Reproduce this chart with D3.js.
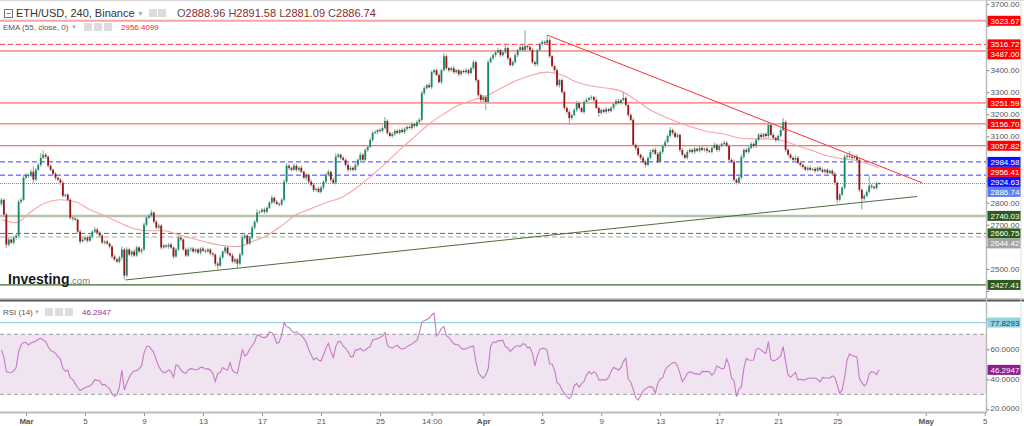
<!DOCTYPE html>
<html><head><meta charset="utf-8">
<script src="https://cdn.jsdelivr.net/npm/d3@7"></script>
<style>
body{margin:0;background:#fff;}
svg{display:block;font-family:"Liberation Sans",Arial,sans-serif;}
</style></head>
<body><svg id="c" width="1024" height="426"></svg>
<script>
// ---------------- DATA (ETH/USD 4h, Binance) ----------------
const firstOpen = 2795;
const closes = [
2813,2746,2610,2633,2619,2642,2651,2804,2813,2913,2926,2922,2940,2904,2949,2971,3003,3017,3008,2967,
2949,2931,2913,2904,2890,2831,2836,2813,2732,2728,2723,2669,2624,2633,2642,2628,2646,2669,2678,2664,
2651,2619,2624,2615,2601,2556,2543,2533,2552,2588,2470,2588,2565,2579,2561,2597,2579,2588,2700,2732,
2741,2755,2714,2687,2696,2597,2606,2601,2610,2597,2556,2588,2642,2633,2588,2561,2588,2592,2579,2588,
2574,2592,2583,2579,2588,2570,2565,2524,2515,2552,2579,2597,2570,2561,2533,2543,2524,2565,2642,2651,
2615,2642,2687,2714,2755,2759,2768,2759,2777,2800,2822,2804,2795,2791,2813,2895,2967,2958,2949,2967,
2949,2958,2940,2913,2926,2895,2881,2858,2863,2849,2868,2895,2926,2940,2904,2890,3008,3017,3003,2994,
2971,2949,2958,2949,2971,2994,3017,2994,3039,3053,3084,3116,3120,3129,3125,3138,3170,3116,3102,3111,
3125,3116,3129,3120,3134,3143,3138,3156,3147,3165,3175,3296,3319,3332,3323,3391,3400,3378,3346,3400,
3463,3409,3400,3409,3391,3400,3382,3396,3391,3400,3387,3409,3436,3355,3287,3265,3278,3256,3436,3454,
3468,3481,3491,3468,3481,3500,3454,3423,3436,3468,3491,3504,3491,3509,3504,3491,3436,3427,3491,3518,
3527,3522,3536,3463,3418,3400,3332,3355,3301,3229,3211,3183,3197,3220,3251,3229,3211,3256,3265,3274,
3278,3265,3229,3206,3220,3211,3224,3215,3229,3247,3260,3251,3265,3274,3242,3197,3175,3062,3048,3017,
3003,2985,2971,3003,3030,3039,3021,2985,3030,3057,3075,3102,3129,3116,3098,3107,3039,3017,3003,3030,
3039,3030,3044,3035,3048,3039,3044,3035,3030,3048,3062,3039,3057,3066,3071,3057,2994,2985,2904,2890,
2913,3008,3039,3030,3048,3066,3057,3084,3107,3098,3111,3102,3152,3107,3093,3084,3102,3129,3165,3039,
3017,3003,2994,3003,2980,2971,2962,2949,2958,2949,2953,2944,2958,2949,2940,2949,2935,2944,2931,2890,
2813,2836,2868,3008,3012,3008,3003,3008,2994,2858,2818,2831,2849,2877,2872,2866,2888.96,2886.74];
// upper / lower shadow length of each candle (price units)
const wickUp = [
8,6,10,8,6,8,6,10,8,15,8,6,10,25,8,10,22,20,8,6,
8,6,8,6,8,10,6,8,8,6,8,6,8,10,6,8,10,6,12,8,
6,8,6,8,6,8,10,6,8,15,8,10,8,6,10,8,6,8,10,8,
8,13,6,8,10,6,8,6,8,10,6,8,12,8,6,8,10,6,8,6,
8,6,10,6,8,6,8,6,8,10,6,8,6,8,10,8,6,8,15,8,
6,8,10,8,15,6,8,10,6,8,12,6,8,6,8,10,13,8,6,10,
8,6,10,6,8,6,10,8,6,8,10,6,8,10,6,8,15,8,6,8,
6,8,10,6,8,6,10,8,6,8,10,6,8,6,8,10,18,8,6,8,
6,8,6,10,8,6,8,10,6,8,10,10,8,6,10,8,6,8,10,8,
14,8,6,8,10,6,8,6,8,10,6,8,10,8,6,8,10,6,10,8,
6,8,10,6,8,22,8,6,8,10,6,8,10,72,8,6,10,8,6,8,
10,8,22,8,6,8,10,6,8,6,8,10,6,8,10,8,6,8,10,6,
8,6,10,8,6,8,10,6,8,6,8,10,6,27,8,6,8,10,6,8,
6,8,10,6,8,6,10,8,6,8,10,8,14,6,8,10,6,8,6,10,
8,6,8,6,8,10,6,8,6,8,10,6,8,6,10,8,6,8,10,6,
8,10,6,8,6,10,8,6,8,10,6,8,12,6,8,6,8,10,18,8,
6,8,6,10,8,6,8,6,8,10,6,8,6,8,10,6,8,6,8,8,
6,8,6,10,8,22,8,6,10,8,6,8,10,45,8,6,8,2.62];
const wickDn = [
10,8,15,8,6,8,10,6,8,6,8,10,6,15,8,6,8,6,10,8,
6,8,10,6,10,8,6,8,8,10,6,8,12,6,8,10,6,8,6,8,
10,6,8,6,8,10,8,6,8,10,18,8,6,10,8,6,8,10,6,8,
6,8,10,6,8,10,6,8,10,6,8,6,8,10,6,8,6,10,8,6,
8,10,6,8,6,8,10,12,18,8,6,10,8,6,8,10,18,8,6,10,
8,6,8,10,6,8,6,10,8,6,8,10,6,8,6,8,6,10,8,6,
10,8,6,8,10,6,8,10,8,6,8,10,6,8,10,6,8,6,10,8,
8,10,6,8,6,10,8,6,8,10,6,8,6,10,8,6,8,10,6,8,
10,6,8,6,10,8,6,8,10,6,8,6,10,8,6,8,10,6,8,10,
6,8,10,6,8,6,10,8,6,8,10,6,8,10,8,12,10,36,8,6,
8,10,6,8,6,8,10,6,8,6,10,8,6,8,10,6,8,10,8,6,
8,6,10,8,6,10,8,12,8,10,12,31,8,6,10,8,6,10,8,6,
8,10,6,18,8,6,10,8,6,8,10,6,8,6,8,10,8,6,12,8,
10,8,13,6,8,10,6,8,6,10,8,6,8,10,6,8,10,8,6,8,
6,8,10,6,8,6,8,10,6,8,6,10,8,6,8,6,10,8,10,8,
6,8,10,6,8,6,8,10,6,8,6,10,8,6,8,10,6,8,6,10,
8,6,10,8,6,8,10,6,8,6,8,10,6,8,6,8,10,6,8,10,
13,8,6,8,10,6,8,6,8,10,50,8,6,8,10,6,8,5.65];
// EMA(55) read every 6th candle, plus the last candle
const emaValues = [2723,2709,2759,2800,2813,2804,2768,2741,2709,2682,2673,2673,2655,2637,2619,2606,2601,2624,2651,2696,
2746,2773,2800,2822,2863,2917,2976,3039,3098,3156,3202,3242,3265,3287,3323,3355,3378,3391,3378,3346,
3328,3319,3305,3265,3220,3188,3161,3138,3120,3111,3093,3089,3089,3080,3057,3035,3012,2999,2990,2971,2956.4099];
const rsiValues = [
59.6,55,45.1,44.7,44.5,45.6,48,58.2,62.9,64.7,64.5,62.9,64.2,64.9,65.3,66.7,67.3,66.2,65.1,61.8,
59.1,58.5,57.3,55.1,53.3,47.3,45.3,46.2,40.9,39.8,37.3,34.5,32.5,33.3,34.5,35.1,35.6,37.1,39.8,39.3,
39.1,36.2,36.7,35.1,33.6,30.2,28.5,29.6,35.1,46.2,32.9,37.3,41.3,44.0,45.6,45.8,46.9,48.9,57.3,61.8,
62.2,60.0,57.8,52.9,48.5,45.8,44.5,44.9,46.2,45.1,41.3,49.6,48.9,46.2,44.5,44.0,46.2,47.1,46.9,46.2,
46.7,48.0,47.8,46.7,47.1,46.2,44.0,38.5,44.0,44.5,47.8,46.7,46.2,51.1,45.8,44.5,44.0,51.8,59.6,55.6,
56.7,60.2,62.2,65.1,69.6,69.1,68.0,67.8,68.5,71.6,71.1,68.5,64.0,64.7,69.6,77.8,75.1,74.5,72.5,71.1,
71.8,70.5,69.1,67.3,64.7,60.0,56.2,52.9,54.4,52.9,52.2,56.2,60.7,64.0,58.5,54.4,61.8,65.1,65.1,62.2,
60.7,58.5,55.1,55.1,59.6,59.6,60.7,58.9,59.6,60.9,61.8,66.2,66.7,67.1,67.8,68.9,71.1,62.7,61.3,60.7,
61.8,62.7,60.9,60.2,60.5,61.8,62.7,63.6,64.9,65.8,70.7,78.0,79.1,79.8,80.7,82.9,84.0,68.9,70.7,74.0,
75.1,69.1,68.0,65.8,63.6,63.1,62.9,60.7,60.0,60.5,61.1,61.8,62.2,51.8,44.5,42.2,40.7,42.9,47.0,62.0,
64.9,64.5,65.6,65.8,66.0,61.8,60.9,58.5,60.2,61.8,62.5,61.8,63.6,63.4,61.1,61.3,57.3,48.9,55.6,60.0,
60.7,60.5,59.1,50.2,50.2,46.2,37.8,36.7,32.9,30.7,28.5,27.1,29.4,35.8,37.3,34.7,36.9,38.7,42.9,45.1,
43.6,45.1,44.0,39.6,39.6,39.6,39.6,41.3,45.1,48.0,47.1,46.2,47.8,51.8,54.0,40.0,38.2,33.3,28.0,26.2,
28.9,32.2,33.6,34.9,35.1,34.5,30.7,37.3,40.2,41.1,46.2,48.5,49.6,51.1,51.3,48.9,44.0,38.5,40.7,44.0,
44.9,44.5,43.6,43.6,43.1,45.3,45.1,45.3,45.1,42.7,44.5,48.9,48.0,46.9,47.3,53.6,49.6,40.7,39.1,28.5,
33.3,35.1,47.3,54.0,52.9,52.7,52.9,60.0,60.7,59.6,58.2,57.3,65.1,53.3,52.2,52.9,54.0,55.6,61.8,51.8,
42.9,41.3,42.9,44.7,39.6,40.0,39.6,39.6,40.7,40.7,40.9,40.9,40.0,38.2,41.3,40.9,40.9,40.9,42.2,41.3,
36.2,30.7,32.9,41.3,52.9,56.9,55.8,55.3,55.1,40.7,37.8,35.6,37.3,43.6,45.1,44.7,43.1,46.2947];
const resistanceLevels = [3623.67, 3516.72, 3487.00, 3251.59, 3156.70, 3057.82];
const blueLevels = [2984.58, 2924.63];
const greenLevels = [2740.03, 2660.75, 2644.42, 2427.41];
const rsiMarkLevel = 77.8293;
const downTrendDates = ["2022-04-05T08:00Z", "2022-04-30T18:00Z"];
const downTrendPrices = [3559, 2890];
const upTrendDates = ["2022-03-07T18:00Z", "2022-04-30T10:00Z"];
const upTrendPrices = [2450, 2828];
const priceTicks = [2400,2500,2600,2700,2800,2900,3000,3100,3200,3300,3400,3500,3600,3700];
const rsiTicks = [20,40,60,80];
const timeTickDates = ["2022-03-01","2022-03-05","2022-03-09","2022-03-13","2022-03-17","2022-03-21","2022-03-25","2022-03-28T12:00Z","2022-04-01","2022-04-05","2022-04-09","2022-04-13","2022-04-17","2022-04-21","2022-04-25","2022-05-01","2022-05-05"];
const timeTickLabels = ["Mar","5","9","13","17","21","25","14:00","Apr","5","9","13","17","21","25","May","5"];
const ohlcLast = {O:"2888.96", H:"2891.58", L:"2881.09", C:"2886.74"};

// ---------------- CHART ----------------
const svg = d3.select("#c");
const t0 = Date.UTC(2022,1,27,8), H4 = 4*3600*1000;
const dates = closes.map((_, i) => new Date(t0 + i*H4));
const opens = closes.map((c, i) => i === 0 ? firstOpen : closes[i-1]);
const highs = closes.map((c, i) => Math.max(c, opens[i]) + wickUp[i]);
const lows = closes.map((c, i) => Math.min(c, opens[i]) - wickDn[i]);

const AX = 986.5;
const x = d3.scaleUtc().domain([new Date(Date.UTC(2022,2,1)), new Date(Date.UTC(2022,4,1))]).range([26, 925.75]);
const y = d3.scaleLinear().domain([2400, 3700]).range([291, 3.9]);
const yr = d3.scaleLinear().domain([30, 70]).range([394.3, 334.3]);

const defs = svg.append("defs");
defs.append("clipPath").attr("id","pc").append("rect").attr("x",0).attr("y",1).attr("width",AX).attr("height",296);
defs.append("clipPath").attr("id","rc").append("rect").attr("x",0).attr("y",302).attr("width",AX).attr("height",110);

// frame lines
svg.append("line").attr("x1",0).attr("x2",1024).attr("y1",0.5).attr("y2",0.5).attr("stroke","#d8d8d8");
svg.append("line").attr("x1",0).attr("x2",1024).attr("y1",298.5).attr("y2",298.5).attr("stroke","#c8c8c8");
svg.append("rect").attr("x",0).attr("y",299.5).attr("width",1024).attr("height",2).attr("fill","#555");

const pg = svg.append("g").attr("clip-path","url(#pc)");
// horizontal levels
const hl = (v, col, w, dash) => pg.append("line").attr("x1",0).attr("x2",AX).attr("y1",y(v)).attr("y2",y(v))
  .attr("stroke",col).attr("stroke-width",w).attr("stroke-dasharray",dash||null);
resistanceLevels.forEach((v,i) => {
  if (i===0 || i===2) hl(v, "#f7a3a3", 2);
  else if (i===1) hl(v, "#ff3b3b", 1, "5,3");
  else hl(v, "#ff4848", 1);
});
blueLevels.forEach(v => hl(v, "#3a3aff", 1, "5,3"));
hl(closes[closes.length-1], "#6b7bff", 1, "1,1");
hl(greenLevels[0], "#b7c2ac", 2.5);
hl(greenLevels[1], "#4c7a3c", 1, "5,3");
hl(greenLevels[2], "#a8a8a8", 1, "5,3");
hl(greenLevels[3], "#3f6b2e", 1.2);

// EMA
const emaIdx = emaValues.map((v,k) => k < emaValues.length-1 ? k*6 : closes.length-1);
pg.append("path").datum(emaValues)
  .attr("d", d3.line().x((v,k)=>x(dates[emaIdx[k]])).y(v=>y(v)).curve(d3.curveMonotoneX))
  .attr("fill","none").attr("stroke","#f6a5a5").attr("stroke-width",1.1);

// candles
const cg = pg.append("g");
closes.forEach((c,i) => {
  const cx = x(dates[i]);
  cg.append("line").attr("x1",cx).attr("x2",cx).attr("y1",y(highs[i])).attr("y2",y(lows[i]))
    .attr("stroke","#9fb3a8").attr("stroke-width",1.2);
});
closes.forEach((c,i) => {
  const cx = x(dates[i]), o = opens[i], up = c >= o;
  const y1 = y(Math.max(o,c)), y2 = y(Math.min(o,c));
  cg.append("rect").attr("x",cx-0.9).attr("width",1.8).attr("y",y1).attr("height",Math.max(0.8,y2-y1))
    .attr("fill", up ? "#16896b" : "#9d1313");
});

// trend lines
pg.append("line").attr("x1",x(new Date(downTrendDates[0]))).attr("y1",y(downTrendPrices[0]))
  .attr("x2",x(new Date(downTrendDates[1]))).attr("y2",y(downTrendPrices[1])).attr("stroke","#ff3030").attr("stroke-width",1);
pg.append("line").attr("x1",x(new Date(upTrendDates[0]))).attr("y1",y(upTrendPrices[0]))
  .attr("x2",x(new Date(upTrendDates[1]))).attr("y2",y(upTrendPrices[1])).attr("stroke","#4d6e3c").attr("stroke-width",1);

// watermark
const wm = svg.append("text").attr("x",8).attr("y",284);
wm.append("tspan").text("Investing").attr("font-size",14).attr("font-weight","bold").attr("fill","#1a1a1a");
wm.append("tspan").text(".com").attr("font-size",9.5).attr("fill","#777");

// RSI pane
const rg = svg.append("g").attr("clip-path","url(#rc)");
rg.append("rect").attr("x",0).attr("width",AX).attr("y",yr(70)).attr("height",yr(30)-yr(70)).attr("fill","#f1e4f1");
[70,30].forEach(v => rg.append("line").attr("x1",0).attr("x2",AX).attr("y1",yr(v)).attr("y2",yr(v))
  .attr("stroke","#a09aa0").attr("stroke-dasharray","4,3"));
rg.append("line").attr("x1",0).attr("x2",AX).attr("y1",yr(rsiMarkLevel)).attr("y2",yr(rsiMarkLevel)).attr("stroke","#93d3e3").attr("stroke-width",1.2);
rg.append("path").datum(rsiValues)
  .attr("d", d3.line().x((v,i)=>x(dates[i])).y(v=>yr(v)))
  .attr("fill","none").attr("stroke","#c57bc5").attr("stroke-width",1.1);

// value labels on axis (positions resolved first, so tick texts under them can be skipped)
const lastClose = closes[closes.length-1], lastEma = emaValues[emaValues.length-1];
const labs = [];
resistanceLevels.forEach(v => labs.push({v, bg:"#ff0000", fg:"#fff"}));
labs.push({v: blueLevels[0], bg:"#1010ff", fg:"#fff"});
labs.push({v: lastEma, bg:"#ff0000", fg:"#fff"});
labs.push({v: blueLevels[1], bg:"#1010ff", fg:"#fff"});
labs.push({v: lastClose, bg:"#5b7ff0", fg:"#fff"});
labs.push({v: greenLevels[0], bg:"#2f5a1e", fg:"#fff"});
labs.push({v: greenLevels[1], bg:"#2f5a1e", fg:"#fff"});
labs.push({v: greenLevels[2], bg:"#a4a4a4", fg:"#fff"});
labs.push({v: greenLevels[3], bg:"#2f5a1e", fg:"#fff"});
labs.sort((a,b)=>b.v-a.v);
let prev = -100;
labs.forEach(l => { l.py = Math.max(y(l.v), prev + 10); prev = l.py; });
const rsiLabs = [
  {py: yr(rsiMarkLevel), txt: d3.format(".4f")(rsiMarkLevel), bg:"#8fd2e2", fg:"#1d3a5a"},
  {py: yr(rsiValues[rsiValues.length-1]), txt: d3.format(".4f")(rsiValues[rsiValues.length-1]), bg:"#8e1d8e", fg:"#fff"}];
const labYs = labs.map(l=>l.py).concat(rsiLabs.map(l=>l.py));

// right axis
svg.append("line").attr("x1",AX).attr("x2",AX).attr("y1",0).attr("y2",413).attr("stroke","#bdbdbd").attr("stroke-width",1.5);
svg.append("line").attr("x1",1021).attr("x2",1021).attr("y1",0).attr("y2",413).attr("stroke","#e2e2e2").attr("stroke-width",1);
const pa = svg.append("g").attr("transform",`translate(${AX},0)`)
  .call(d3.axisRight(y).tickValues(priceTicks).tickFormat(d3.format(".2f")).tickSize(3).tickPadding(1));
const ra = svg.append("g").attr("transform",`translate(${AX},0)`)
  .call(d3.axisRight(yr).tickValues(rsiTicks).tickFormat(d3.format(".4f")).tickSize(3).tickPadding(1));
[[pa,y],[ra,yr]].forEach(([a,sc]) => {
  a.select(".domain").remove();
  a.selectAll("line").attr("stroke","#888");
  a.selectAll("text").attr("font-size",8).attr("fill","#555").attr("font-family","Liberation Sans, Arial, sans-serif");
  a.selectAll(".tick").filter(d => labYs.some(ly => Math.abs(ly - sc(d)) < 8.5)).select("text").remove();
});
ra.selectAll(".tick").filter(d => d===20).select("text").attr("dy","0.1em");

const drawLab = (py, txt, bg, fg) => {
  svg.append("rect").attr("x",AX+1).attr("y",py-5).attr("width",33).attr("height",10).attr("fill",bg);
  svg.append("text").attr("x",AX+4).attr("y",py+3).attr("font-size",8).attr("fill",fg).text(txt);
};
labs.forEach(l => drawLab(l.py, d3.format(".2f")(l.v), l.bg, l.fg));
rsiLabs.forEach(l => drawLab(l.py, l.txt, l.bg, l.fg));

// time axis
svg.append("line").attr("x1",0).attr("x2",AX).attr("y1",412.5).attr("y2",412.5).attr("stroke","#bcbcbc").attr("stroke-width",2);
const ta = svg.append("g").attr("transform","translate(0,413)")
  .call(d3.axisBottom(x).tickValues(timeTickDates.map(d=>new Date(d))).tickFormat((d,i)=>timeTickLabels[i]).tickSize(3).tickPadding(2));
ta.select(".domain").remove();
ta.selectAll("line").attr("stroke","#999");
ta.selectAll("text").attr("font-size",8).attr("fill","#555").attr("font-family","Liberation Sans, Arial, sans-serif")
  .attr("font-weight",(d,i)=> /^[A-Z]/.test(timeTickLabels[i]) ? "bold" : null);

// header legends
const icon = (x0, y0, s) => svg.append("rect").attr("x",x0).attr("y",y0).attr("width",s).attr("height",s).attr("fill","#dcdcdc");
svg.append("rect").attr("x",4.5).attr("y",9.5).attr("width",8).attr("height",8).attr("fill","none").attr("stroke","#777");
svg.append("line").attr("x1",6.5).attr("x2",10.5).attr("y1",13.5).attr("y2",13.5).attr("stroke","#777");
svg.append("text").attr("x",16).attr("y",17).attr("font-size",11).attr("fill","#333").text("ETH/USD, 240, Binance");
svg.append("text").attr("x",137).attr("y",16).attr("font-size",7).attr("fill","#aaa").text("▼");
icon(149,9,8); icon(158,9,8);
const oh = svg.append("text").attr("x",177).attr("y",17).attr("font-size",11);
Object.entries(ohlcLast).forEach(([k,v],i) => {
  oh.append("tspan").text((i? " " : "") + k).attr("fill","#555");
  oh.append("tspan").text(v).attr("fill","#8a2a2a");
});
svg.append("text").attr("x",3).attr("y",30).attr("font-size",8).attr("fill","#555").text("EMA (55, close, 0)");
svg.append("text").attr("x",71).attr("y",29).attr("font-size",6).attr("fill","#aaa").text("▼");
icon(84,23,8); icon(94,23,8); icon(104,23,8);
svg.append("text").attr("x",121).attr("y",30).attr("font-size",8).attr("fill","#ff1a1a").text(d3.format(".4f")(lastEma));
svg.append("text").attr("x",3).attr("y",315).attr("font-size",8).attr("fill","#555").text("RSI (14)");
svg.append("text").attr("x",34).attr("y",314).attr("font-size",6).attr("fill","#aaa").text("▼");
icon(45,308,8); icon(55,308,8); icon(65,308,8);
svg.append("text").attr("x",82).attr("y",315).attr("font-size",8).attr("fill","#9a2a9a").text(d3.format(".4f")(rsiValues[rsiValues.length-1]));
</script></body></html>
